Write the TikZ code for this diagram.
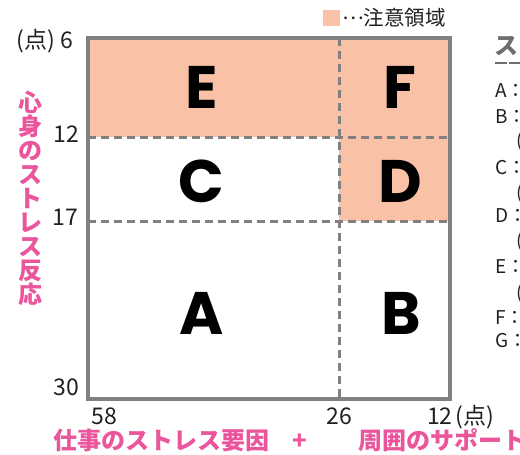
\documentclass[tikz,border=0pt]{standalone}
\usepackage{fontspec}
\newfontfamily\jpfont{Noto Sans CJK JP}
\newfontfamily\letterfont{Poppins}
\definecolor{attn}{HTML}{F9C2A7}
\definecolor{framegray}{HTML}{808080}
\definecolor{axispink}{HTML}{EA559C}
\definecolor{keygray}{HTML}{6D6E71}
\definecolor{inkblack}{HTML}{231F20}
\begin{document}
\begin{tikzpicture}[x=1pt,y=-1pt,
		tick/.style={font=\jpfont\fontsize{23}{23}\selectfont,text=inkblack,inner sep=0pt},
		zone/.style={font=\letterfont\bfseries\fontsize{60}{60}\selectfont,inner sep=0pt},
		axislabel/.style={font=\jpfont\bfseries\fontsize{24}{24}\selectfont,text=axispink,inner sep=0pt},
		key/.style={font=\jpfont\fontsize{19}{19}\selectfont,text=inkblack,anchor=base west,inner sep=0pt},
		divider/.style={framegray,line width=3pt,dash pattern=on 8pt off 5pt}]
			\def\xl{88} % left edge = 58 points
			\def\xm{339}
			\def\xr{450}
			\def\yt{38} % top edge = 6 points
			\def\ya{137}
			\def\yb{221}
			\def\yd{399}
			\useasboundingbox (0,0) rectangle (520,455);
			\clip (0,0) rectangle (520,455);
			% caution areas
			\fill[attn] (\xl,\yt) rectangle (\xr,\ya);
			\fill[attn] (\xm,\ya) rectangle (\xr,\yb);
			\draw[divider] (\xl,\ya)--(\xr,\ya) (\xl,\yb)--(\xr,\yb) (\xm,\yt)--(\xm,\yd);
			\draw[framegray,line width=4.5pt] (\xl,\yt) rectangle (\xr,\yd);
			\node[zone] (E) at (202,87) {E};
			\node[zone] (F) at (400,87) {F};
			\node[zone] (C) at (201,181) {C};
			\node[zone] (D) at (400,181) {D};
			\node[zone] (A) at (202,313) {A};
			\node[zone] (B) at (401,313) {B};
			% scale values
			\node[tick,anchor=base east] (y6) at (73,48) {(点) 6};
			\node[tick,anchor=base east] (y12) at (79,142) {12};
			\node[tick,anchor=base east] (y17) at (78,225) {17};
			\node[tick,anchor=base east] (y30) at (79,395) {30};
			\node[tick,anchor=base] (x58) at (104,424) {58};
			\node[tick,anchor=base] (x26) at (339.5,424) {26};
			\node[tick,anchor=base west] (x12) at (427,424) {12\hspace{3pt}(点)};
			% axis names
			\foreach \c [count=\i] in {心,身,の,ス,ト,レ,ス,反,応}
				\node[axislabel,text height=21pt,text depth=3pt] (v\i) at (30,{78+24*\i}) {\c};
			\node[axislabel,anchor=base west] (work) at (53,449) {仕事のストレス要因};
			\node[axislabel,anchor=base] (plus) at (300,449) {+};
			\node[axislabel,anchor=base west] (support) at (358,449) {周囲のサポート};
			% legend
			\fill[attn] (323,10) rectangle (340,26);
			\node[key,font=\jpfont\fontsize{20.5}{20.5}\selectfont,anchor=base west] (caution) at (342,25.5) {\raisebox{6pt}{…}注意領域};
			\node[key,font=\jpfont\bfseries\fontsize{24}{24}\selectfont,text=keygray] (keyhead) at (494,54) {ス};
			\draw[keygray,line width=2pt,dash pattern=on 12pt off 2pt] (495,63)--(520,63);
			\node[key] (kA) at (495,97) {A：};
			\node[key] (kB) at (495,123) {B：};
			\node[key] (kB2) at (516,147) {(};
			\node[key] (kC) at (495,174) {C：};
			\node[key] (kC2) at (516,199) {(};
			\node[key] (kD) at (495,222) {D：};
			\node[key] (kD2) at (516,247) {(};
			\node[key] (kE) at (495,273) {E：};
			\node[key] (kE2) at (516,299) {(};
			\node[key] (kF) at (495,324) {F：};
			\node[key] (kG) at (495,347) {G：};
\end{tikzpicture}
\end{document}
